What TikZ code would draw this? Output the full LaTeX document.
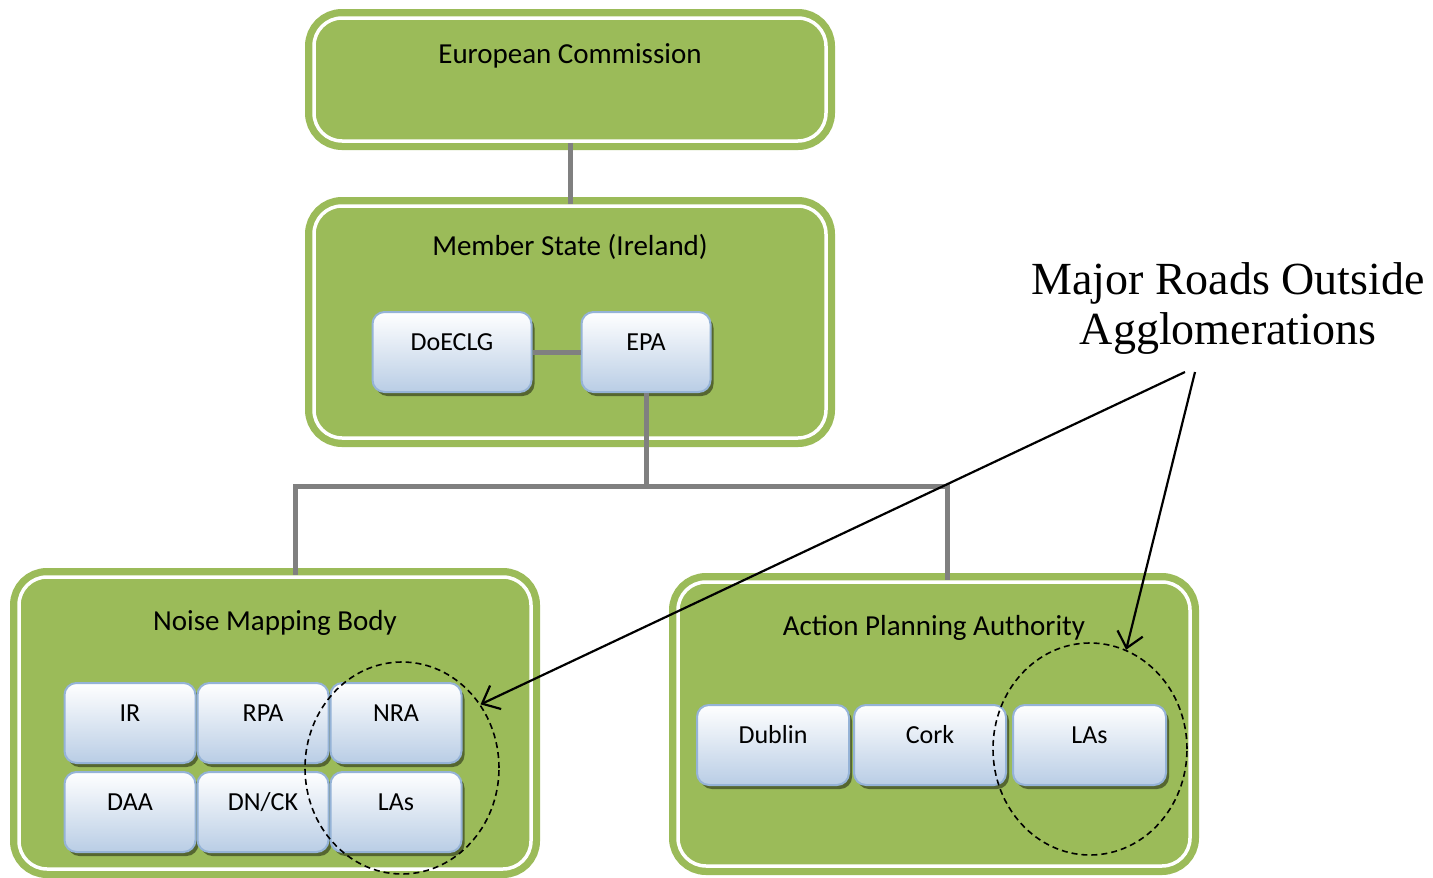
\documentclass[tikz,border=0pt]{standalone}
\usepackage{fontspec}
\setmainfont{Carlito}
\newfontfamily\notefont{Liberation Serif}
\usetikzlibrary{arrows.meta,positioning,shadows,shapes.geometric}
\definecolor{leaf}{HTML}{9BBB59}
\definecolor{wire}{HTML}{808080}
\definecolor{paleblue}{HTML}{B9CDE5}
\definecolor{edgeblue}{HTML}{95B3D7}

\tikzset{
  frame/.style={rectangle, rounded corners=28pt, fill=leaf, draw=white, line width=3.5pt,
    preaction={draw=leaf, line width=18pt}, inner sep=0pt, minimum width=512pt},
  title/.style={font=\fontsize{29}{33}\selectfont, anchor=base},
  unit/.style={rectangle, rounded corners=12pt, draw=edgeblue, line width=2pt,
    top color=white, bottom color=paleblue,
    drop shadow={shadow xshift=3pt, shadow yshift=-4pt, opacity=0.45, fill=black},
    minimum height=80pt, text height=17pt, text depth=20pt, inner sep=0pt,
    font=\fontsize{26}{30}\selectfont},
  conn/.style={draw=wire, line width=5pt},
  ring/.style={ellipse, draw, dash pattern=on 6pt off 4pt, line width=1.6pt, inner sep=0pt},
  pointer/.style={->, line width=2.2pt}
}

\begin{document}
\begin{tikzpicture}[x=1pt,y=-1pt,>={Straight Barb[length=15pt,width=26pt]}]
\useasboundingbox (0,0) rectangle (1433,878);

\node[frame, minimum height=123pt] (ec)  at (570,79.5) {};
\node[frame, minimum height=232pt] (ms)  at (570,322)  {};
\node[frame, minimum height=292pt] (nmb) at (275,723)  {};
\node[frame, minimum height=284pt] (apa) at (934,724)  {};

\node[title] (ectitle)  at ([yshift=-47pt]ec.north)  {European Commission};
\node[title] (mstitle)  at ([yshift=-51pt]ms.north)  {Member State (Ireland)};
\node[title] (nmbtitle) at ([yshift=-55pt]nmb.north) {Noise Mapping Body};
\node[title] (apatitle) at ([yshift=-55pt]apa.north) {Action Planning Authority};

\node[unit, minimum width=159pt] (doe)   at (452,352)         {DoECLG};
\node[unit, minimum width=129pt] (epa)   [right=48pt of doe]  {EPA};

\node[unit, minimum width=131pt] (ir)    at (130,723)         {IR};
\node[unit, minimum width=131pt] (rpa)   [right=0pt of ir]    {RPA};
\node[unit, minimum width=131pt] (nra)   [right=0pt of rpa]   {NRA};
\node[unit, minimum width=131pt] (daa)   [below=7pt of ir]    {DAA};
\node[unit, minimum width=131pt] (dnck)  [below=7pt of rpa]   {DN/CK};
\node[unit, minimum width=131pt] (nmblas)[below=7pt of nra]   {LAs};

\node[unit, minimum width=152pt] (dub)   at (773,745)         {Dublin};
\node[unit, minimum width=152pt] (cork)  [right=3pt of dub]   {Cork};
\node[unit, minimum width=153pt] (apalas)[right=5pt of cork]  {LAs};

\path[conn] (ec)  edge (ms)
            (doe) edge (epa);

\coordinate (fork) at ([yshift=-93pt]epa.south);
\draw[conn] (epa.south) -- (fork) -| ([xshift=20pt]nmb.north);
\draw[conn] (fork) -| ([xshift=13pt]apa.north);

\node[ring, minimum width=194pt, minimum height=212pt] (ring1) at (402,768)  {};
\node[ring, minimum width=194pt, minimum height=212pt] (ring2) at (1090,749) {};

\node[font=\notefont\fontsize{46}{50}\selectfont, align=center] (roads) at (1228,309)
  {Major Roads Outside\\Agglomerations};
\coordinate (foot) at (1190,372);

\draw[pointer] ([xshift=-5pt]foot) -- (ring1.39);
\draw[pointer] ([xshift=5pt]foot)  -- (ring2.70);
\end{tikzpicture}
\end{document}
